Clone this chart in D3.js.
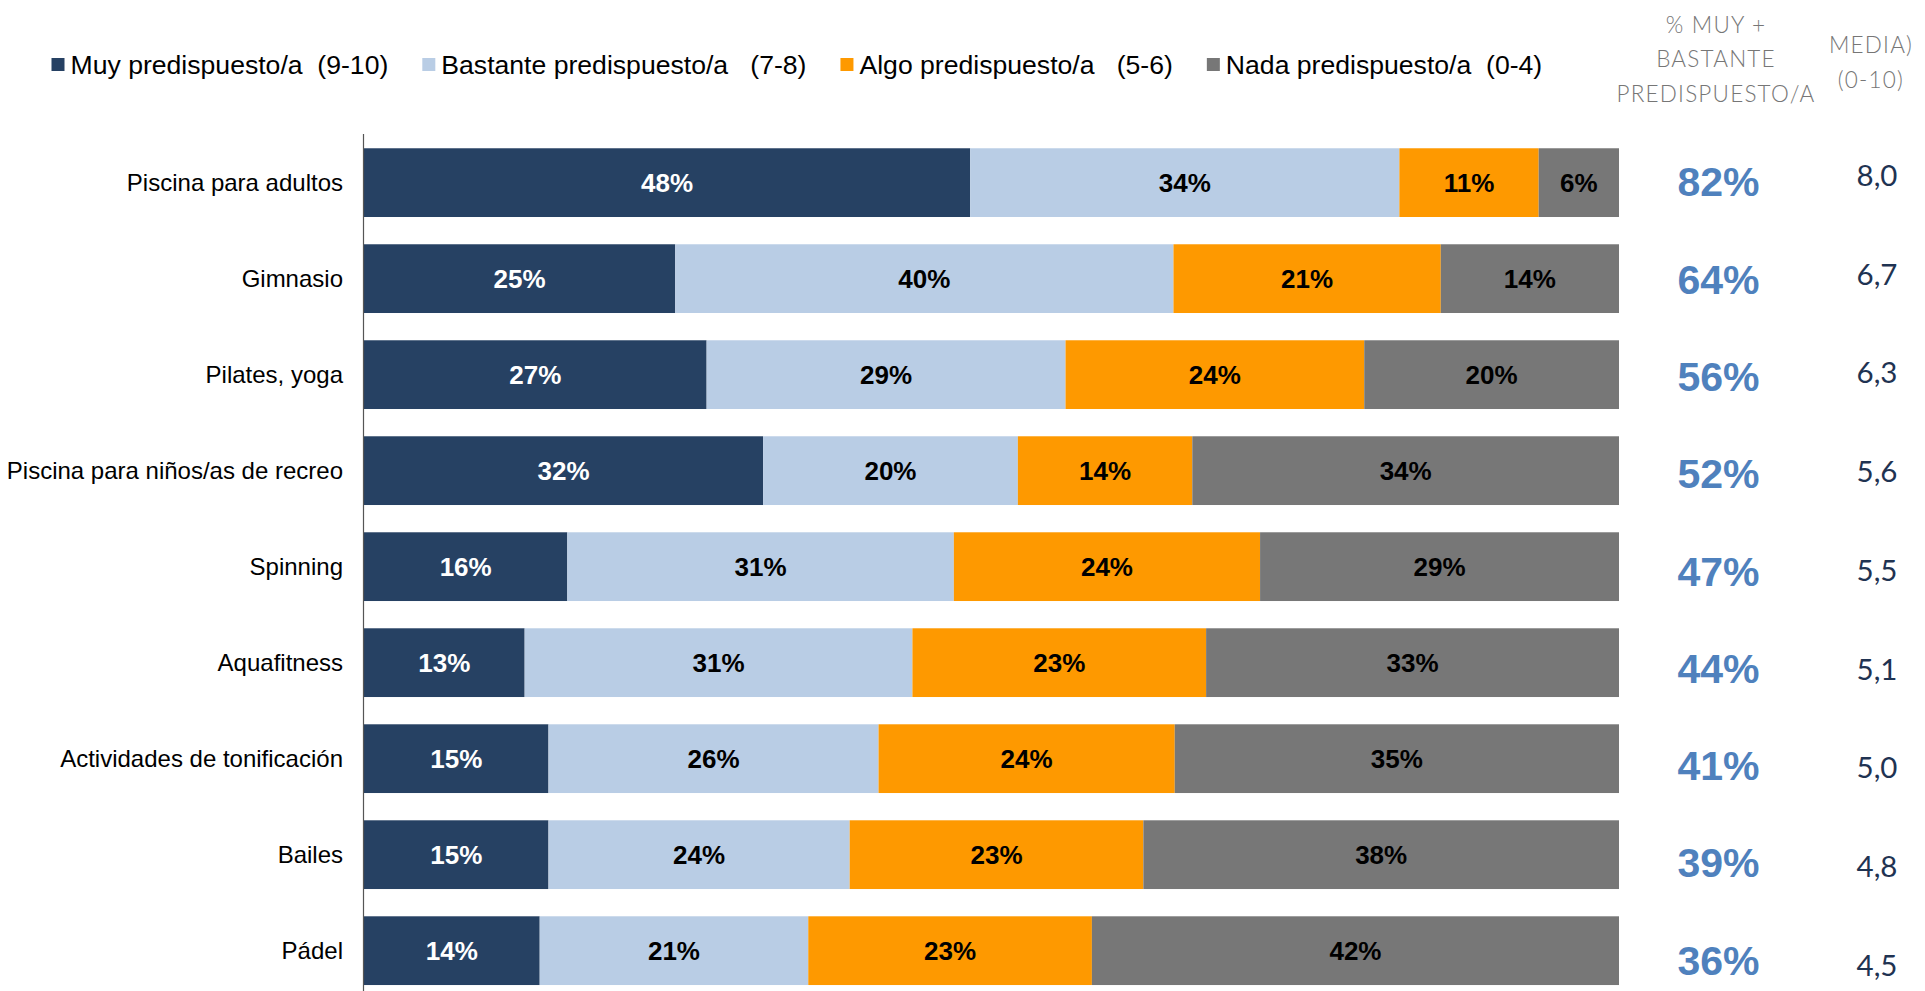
<!DOCTYPE html>
<html>
<head>
<meta charset="utf-8">
<script src="https://cdn.jsdelivr.net/npm/d3@7"></script>
<style>
  html, body { margin: 0; padding: 0; background: #ffffff; }
  svg { display: block; }
  text { white-space: pre; }
</style>
</head>
<body>
<div id="chart"></div>
<script>
// ---------------- DATA ----------------
const categories = [
  "Piscina para adultos",
  "Gimnasio",
  "Pilates, yoga",
  "Piscina para niños/as de recreo",
  "Spinning",
  "Aquafitness",
  "Actividades de tonificación",
  "Bailes",
  "Pádel"
];
const seriesNames = [
  "Muy predispuesto/a  (9-10)",
  "Bastante predispuesto/a   (7-8)",
  "Algo predispuesto/a   (5-6)",
  "Nada predispuesto/a  (0-4)"
];
// segment values (%)
const muy      = [48.3, 24.8, 27.3, 31.8, 16.2, 12.8, 14.7, 14.7, 14.0];
const bastante = [34.2, 39.7, 28.6, 20.3, 30.8, 30.9, 26.3, 24.0, 21.4];
const algo     = [11.1, 21.3, 23.8, 13.9, 24.4, 23.4, 23.6, 23.4, 22.6];
const nada     = [ 6.4, 14.2, 20.3, 34.0, 28.6, 32.9, 35.4, 37.9, 42.0];
// printed labels
const muyLbl      = [48, 25, 27, 32, 16, 13, 15, 15, 14];
const bastanteLbl = [34, 40, 29, 20, 31, 31, 26, 24, 21];
const algoLbl     = [11, 21, 24, 14, 24, 23, 24, 23, 23];
const nadaLbl     = [ 6, 14, 20, 34, 29, 33, 35, 38, 42];
const totalMuyBastante = [82, 64, 56, 52, 47, 44, 41, 39, 36];
const media = ["8,0", "6,7", "6,3", "5,6", "5,5", "5,1", "5,0", "4,8", "4,5"];
const headerTotal = ["% MUY +", "BASTANTE", "PREDISPUESTO/A"];
const headerMedia = ["MEDIA)", "(0-10)"];

// ---------------- STYLE / LAYOUT ----------------
const W = 1925, H = 991;
const colors = ["#264163", "#b9cde5", "#fe9900", "#777777"];
const labelColors = ["#ffffff", "#000000", "#000000", "#000000"];

const svg = d3.select("#chart").append("svg")
  .attr("width", W).attr("height", H);

const x = d3.scaleLinear().domain([0, 100]).range([364, 1619]);
const y = d3.scaleBand().domain(categories)
  .range([121, 1012.3]).paddingInner(0.284).paddingOuter(0.284);
const yTot = d3.scalePoint().domain(categories).range([181.7, 960]);
const yMed = d3.scalePoint().domain(categories).range([175.5, 965]);

const valueRows = [muy, bastante, algo, nada];
const labelRows = [muyLbl, bastanteLbl, algoLbl, nadaLbl];
const rows = categories.map((c, i) => {
  const o = { cat: c };
  seriesNames.forEach((s, k) => { o[s] = valueRows[k][i]; });
  return o;
});
const stacked = d3.stack().keys(seriesNames)(rows);

// bars
const gBars = svg.append("g");
stacked.forEach((layer, k) => {
  const g = gBars.append("g").attr("fill", colors[k]);
  g.selectAll("rect").data(layer).join("rect")
    .attr("x", d => x(d[0]))
    .attr("y", d => y(d.data.cat))
    .attr("width", d => x(d[1]) - x(d[0]))
    .attr("height", y.bandwidth());
  gBars.append("g").selectAll("text").data(layer).join("text")
    .attr("x", d => (x(d[0]) + x(d[1])) / 2)
    .attr("y", d => y(d.data.cat) + y.bandwidth() / 2)
    .attr("dy", "0.37em")
    .attr("text-anchor", "middle")
    .attr("font-family", "Liberation Sans, Arial, sans-serif")
    .attr("font-weight", "bold")
    .attr("font-size", 26)
    .attr("fill", labelColors[k])
    .text((d, i) => labelRows[k][i] + "%");
});

// vertical axis line
svg.append("line")
  .attr("x1", x(0) - 0.5).attr("x2", x(0) - 0.5)
  .attr("y1", 134).attr("y2", H)
  .attr("stroke", "#555555").attr("stroke-width", 1.2);

// category labels
svg.append("g").selectAll("text").data(categories).join("text")
  .attr("x", 343)
  .attr("y", d => y(d) + y.bandwidth() / 2)
  .attr("dy", "0.35em")
  .attr("text-anchor", "end")
  .attr("font-family", "Liberation Sans, Arial, sans-serif")
  .attr("font-size", 24)
  .attr("fill", "#000000")
  .text(d => d);

// totals column
svg.append("g").selectAll("text").data(categories).join("text")
  .attr("x", 1718.5)
  .attr("y", d => yTot(d))
  .attr("dy", "0.36em")
  .attr("text-anchor", "middle")
  .attr("font-family", "Liberation Sans, Arial, sans-serif")
  .attr("font-weight", "bold")
  .attr("font-size", 41)
  .attr("fill", "#4f81bd")
  .text((d, i) => totalMuyBastante[i] + "%");

// media column
svg.append("g").selectAll("text").data(categories).join("text")
  .attr("x", 1877)
  .attr("y", d => yMed(d))
  .attr("dy", "0.36em")
  .attr("text-anchor", "middle")
  .attr("font-family", "Lato, 'Open Sans', sans-serif")
  .attr("font-weight", 400)
  .attr("font-size", 29.5)
  .attr("fill", "#1f3352")
  .text((d, i) => media[i]);

// headers
svg.append("g").selectAll("text").data(headerTotal).join("text")
  .attr("x", 1716)
  .attr("y", (d, i) => 33 + i * 34.3)
  .attr("text-anchor", "middle")
  .attr("font-family", "Lato, 'Open Sans', sans-serif")
  .attr("font-weight", 300)
  .attr("font-size", 22.5)
  .attr("letter-spacing", 1.2)
  .attr("fill", "#767676")
  .text(d => d);
svg.append("g").selectAll("text").data(headerMedia).join("text")
  .attr("x", 1871)
  .attr("y", (d, i) => 53 + i * 35)
  .attr("text-anchor", "middle")
  .attr("font-family", "Lato, 'Open Sans', sans-serif")
  .attr("font-weight", 300)
  .attr("font-size", 22.5)
  .attr("letter-spacing", 1.2)
  .attr("fill", "#767676")
  .text(d => d);

// legend
const legend = svg.append("g");
let lx = 51.5;
seriesNames.forEach((s, k) => {
  legend.append("rect")
    .attr("x", lx).attr("y", 58)
    .attr("width", 13).attr("height", 13)
    .attr("fill", colors[k]);
  const t = legend.append("text")
    .attr("x", lx + 19).attr("y", 64.5)
    .attr("dy", "0.35em")
    .attr("font-family", "Liberation Sans, Arial, sans-serif")
    .attr("font-size", 26.6)
    .attr("fill", "#000000")
    .attr("xml:space", "preserve")
    .text(s);
  lx = lx + 19 + t.node().getComputedTextLength() + 34;
});
</script>
</body>
</html>
